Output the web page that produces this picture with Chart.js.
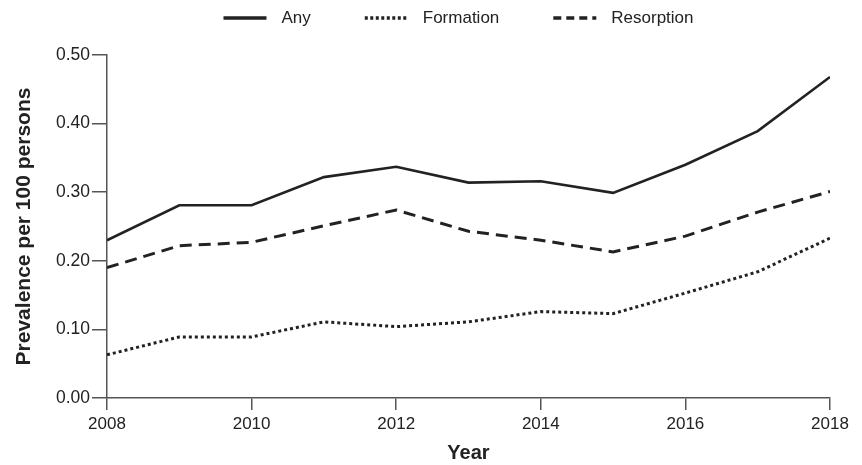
<!DOCTYPE html>
<html>
<head>
<meta charset="utf-8">
<script src="https://cdn.jsdelivr.net/npm/chart.js@4"></script>
<style>
  html, body { margin: 0; padding: 0; background: #fff; }
  #wrap { width: 862px; height: 465px; }
</style>
</head>
<body>
<div id="wrap"><canvas id="chart"></canvas></div>
<script>
const years = [2008, 2009, 2010, 2011, 2012, 2013, 2014, 2015, 2016, 2017, 2018];
const anyValues = [0.230, 0.281, 0.281, 0.322, 0.337, 0.314, 0.316, 0.299, 0.340, 0.389, 0.468];
const formationValues = [0.063, 0.089, 0.089, 0.111, 0.104, 0.111, 0.126, 0.123, 0.153, 0.184, 0.233];
const resorptionValues = [0.190, 0.222, 0.227, 0.251, 0.274, 0.243, 0.230, 0.213, 0.236, 0.271, 0.301];

const ink = '#222';
const axisColor = '#555';
const font = 'Arial, "Liberation Sans", sans-serif';

function points(values) {
  return years.map((y, i) => ({ x: y, y: values[i] }));
}

function series(label, values, width, dash, legendDash) {
  return {
    label,
    data: points(values),
    borderColor: ink,
    backgroundColor: ink,
    borderWidth: width,
    borderDash: dash,
    legendDash,
    pointRadius: 0,
    tension: 0,
    fill: false,
  };
}

// legend drawn by hand so the dash patterns show in the samples
const lineLegend = {
  id: 'lineLegend',
  afterDraw(chart) {
    const ctx = chart.ctx;
    const area = chart.chartArea;
    const sample = 43, gap = 15, spacing = 54, y = 18;
    ctx.save();
    ctx.font = `17px ${font}`;
    const items = chart.data.datasets.map((ds) => ({ ds, w: sample + gap + ctx.measureText(ds.label).width }));
    const total = items.reduce((s, it) => s + it.w, 0) + spacing * (items.length - 1);
    let x = (area.left + area.right) / 2 - 10 - total / 2;
    items.forEach(({ ds, w }) => {
      ctx.beginPath();
      ctx.strokeStyle = ds.borderColor;
      ctx.lineWidth = 3.5;
      ctx.setLineDash(ds.legendDash);
      ctx.moveTo(x, y);
      ctx.lineTo(x + sample, y);
      ctx.stroke();
      ctx.setLineDash([]);
      ctx.fillStyle = ink;
      ctx.textBaseline = 'middle';
      ctx.fillText(ds.label, x + sample + gap, y);
      x += w + spacing;
    });
    ctx.restore();
  },
};

new Chart(document.getElementById('chart'), {
  type: 'line',
  data: {
    datasets: [
      series('Any', anyValues, 2.6, [], []),
      series('Formation', formationValues, 3, [3, 3], [3, 2.5]),
      series('Resorption', resorptionValues, 3, [12, 7], [8, 5]),
    ],
  },
  plugins: [lineLegend],
  options: {
    responsive: true,
    maintainAspectRatio: false,
    animation: false,
    layout: { padding: { left: 0, right: 32, top: 55, bottom: 0 } },
    plugins: {
      tooltip: { enabled: false },
      legend: { display: false },
    },
    scales: {
      x: {
        type: 'linear',
        min: 2008,
        max: 2018,
        afterFit: (s) => { s.height = 67; },
        border: { color: axisColor, width: 1.5 },
        grid: { drawOnChartArea: false, drawTicks: true, tickLength: 12, color: axisColor, lineWidth: 1.5 },
        ticks: { stepSize: 2, color: ink, font: { family: font, size: 17 }, padding: 4, maxRotation: 0, callback: (v) => String(v) },
        title: { display: true, text: 'Year', color: ink, font: { family: font, size: 20, weight: 'bold' }, padding: { top: 0, bottom: 0 } },
      },
      y: {
        min: 0,
        max: 0.5,
        afterFit: (s) => { s.width = 107; },
        border: { color: axisColor, width: 1.5 },
        grid: { drawOnChartArea: false, drawTicks: true, tickLength: 15, color: axisColor, lineWidth: 1.5 },
        ticks: { stepSize: 0.1, color: ink, font: { family: font, size: 17.5 }, padding: 2, callback: (v) => v.toFixed(2) },
        title: { display: true, text: 'Prevalence per 100 persons', color: ink, font: { family: font, size: 21, weight: 'bold' }, padding: { top: 12, bottom: 0 } },
      },
    },
  },
});
</script>
</body>
</html>
